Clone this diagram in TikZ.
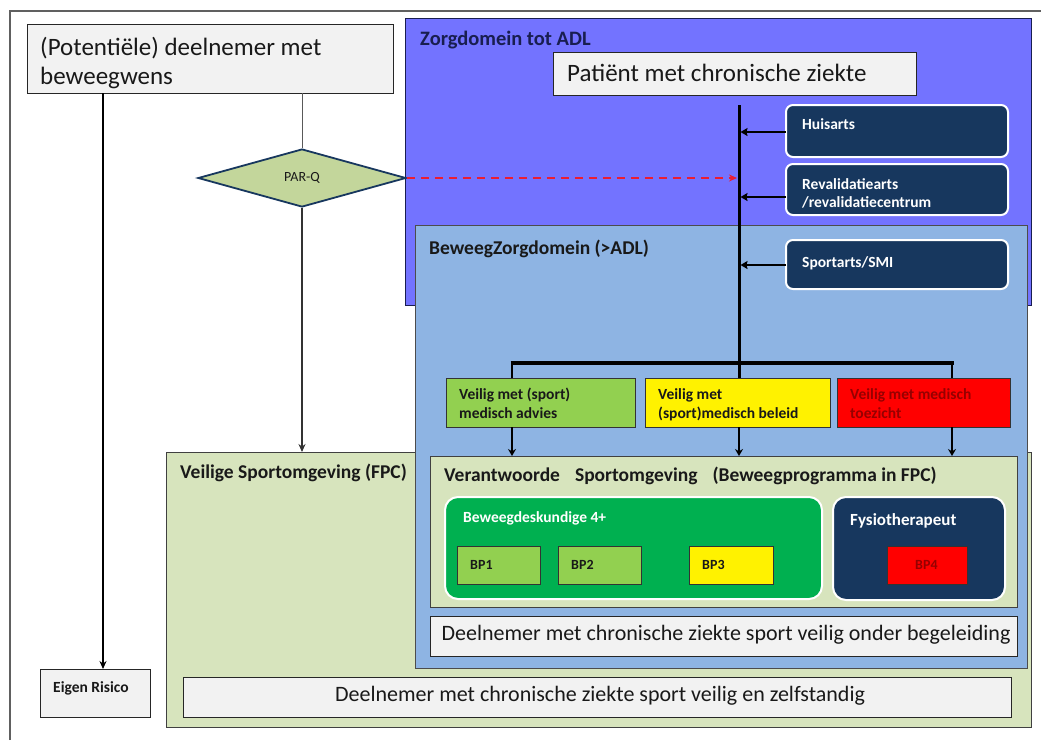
\documentclass[tikz,border=0pt]{standalone}
\usepackage{fontspec}
\setmainfont{Carlito}
\usetikzlibrary{shapes.geometric,arrows.meta}

\definecolor{zorgblue}{RGB}{115,115,255}
\definecolor{beweegblue}{RGB}{142,180,227}
\definecolor{fpcgreen}{RGB}{215,228,189}
\definecolor{navyfill}{RGB}{23,55,94}
\definecolor{lightgreen}{RGB}{146,208,80}
\definecolor{deepgreen}{RGB}{0,176,80}
\definecolor{palegrey}{RGB}{242,242,242}
\definecolor{parqgreen}{RGB}{195,214,155}
\definecolor{inkdark}{RGB}{25,25,25}
\definecolor{inknavy}{RGB}{25,30,80}
\definecolor{redink}{RGB}{150,0,0}
\definecolor{framegrey}{RGB}{96,96,96}
\definecolor{dashred}{RGB}{235,30,50}

\tikzset{
  panel/.style={anchor=north west, inner sep=0pt, outer sep=0pt, draw=black!75, line width=1pt},
  plainbox/.style={panel, fill=palegrey, draw=black!85},
  rolebox/.style={anchor=north west, inner sep=0pt, outer sep=0pt, draw=white, line width=2pt,
                  fill=navyfill, rounded corners=7pt},
  groupbox/.style={anchor=north west, inner sep=0pt, outer sep=0pt, draw=white, line width=2pt,
                  rounded corners=13pt},
  catbox/.style={panel, draw=black!80},
  bpbox/.style={panel, draw=black!80},
  titletxt/.style={anchor=base west, inner sep=0pt, text=inkdark, font=\bfseries\fontsize{19.5}{22}\selectfont},
  bigtxt/.style={anchor=base west, inner sep=0pt, text=inkdark, font=\fontsize{25}{29}\selectfont},
  wideTxt/.style={anchor=center, inner sep=0pt, text=inkdark, font=\fontsize{22}{26}\selectfont},
  smalltxt/.style={anchor=base west, inner sep=0pt, text=inkdark, font=\bfseries\fontsize{15.5}{18}\selectfont},
  bptxt/.style={smalltxt, font=\bfseries\fontsize{14}{16}\selectfont},
  flow/.style={draw=black, line width=1.1pt, -{Stealth[length=8pt,width=7pt]}},
  thinflow/.style={draw=black!65, line width=1pt},
  feed/.style={draw=black, line width=2.6pt, -{Stealth[length=7pt,width=8pt,inset=1pt]}},
  drop/.style={draw=black, line width=2pt, -{Stealth[length=7pt,width=8pt]}},
  stem/.style={draw=black, line width=2.5pt},
  trunk/.style={draw=black, line width=3pt},
  hbar/.style={draw=black, line width=4.5pt},
  riskarrow/.style={draw=dashred, line width=1.7pt, dash pattern=on 8pt off 6pt,
                    -{Stealth[length=8pt,width=7pt]}},
}

\begin{document}
\begin{tikzpicture}[x=1pt,y=-1pt]
\useasboundingbox (0,0) rectangle (1041,740);

% outer frame (left and top sides)
\draw[framegrey, line width=1.5pt] (10,740) -- (10,11) -- (1041,11);

% domain panels
\node[panel, fill=fpcgreen, draw=black!75, minimum width=865pt, minimum height=275pt] (fpc) at (166,452) {};
\node[panel, fill=zorgblue, draw=inknavy, minimum width=626pt, minimum height=287pt] (zorg) at (405,18) {};
\node[panel, fill=beweegblue, draw=black!70, minimum width=612pt, minimum height=443pt] (beweeg) at (415,225) {};

\node[titletxt, text=inknavy, font=\bfseries\fontsize{20.5}{23}\selectfont] (zorgT) at (420,45) {Zorgdomein tot ADL};
\node[titletxt] (beweegT) at (429,254) {BeweegZorgdomein (>ADL)};
\node[titletxt] (fpcT) at (180,478) {Veilige Sportomgeving (FPC)};

% starting point on the left
\node[plainbox, minimum width=366pt, minimum height=69pt] (wish) at (27,24) {};
\node[bigtxt] (wishA) at (40,55) {(Potentiële) deelnemer met};
\node[bigtxt] (wishB) at (40,84) {beweegwens};

% screening question
\node[diamond, draw=navyfill, line width=1.8pt, fill=parqgreen, minimum width=208pt,
      minimum height=58pt, inner sep=0pt, text=inkdark, font=\fontsize{14}{16}\selectfont] (parq) at (302,178) {PAR-Q};

% patient
\node[plainbox, minimum width=363pt, minimum height=43pt] (patient) at (553,52) {};
\node[bigtxt] (patientT) at (567,81) {Patiënt met chronische ziekte};

% referring professionals
\node[rolebox, minimum width=222pt, minimum height=52pt] (huis) at (786,105) {};
\node[smalltxt, text=white] (huisT) at (802,129) {Huisarts};
\node[rolebox, minimum width=222pt, minimum height=51pt] (reval) at (786,164) {};
\node[smalltxt, text=white] (revalA) at (802,189) {Revalidatiearts};
\node[smalltxt, text=white] (revalB) at (802,207) {/revalidatiecentrum};
\node[rolebox, minimum width=222pt, minimum height=49pt] (sport) at (786,240) {};
\node[smalltxt, text=white] (sportT) at (802,267) {Sportarts/SMI};

% safety categories
\node[catbox, fill=lightgreen, minimum width=189pt, minimum height=49pt] (catG) at (446,378) {};
\node[catbox, fill=yellow, minimum width=185pt, minimum height=49pt] (catY) at (645,378) {};
\node[catbox, fill=red, minimum width=173pt, minimum height=49pt] (catR) at (837,378) {};
\node[smalltxt] (catGa) at (459,399) {Veilig met (sport)};
\node[smalltxt] (catGb) at (459,418) {medisch advies};
\node[smalltxt] (catYa) at (658,399) {Veilig met};
\node[smalltxt] (catYb) at (658,418) {(sport)medisch beleid};
\node[smalltxt, text=redink] (catRa) at (850,399) {Veilig met medisch};
\node[smalltxt, text=redink] (catRb) at (850,418) {toezicht};

% supervised sport setting
\node[panel, fill=fpcgreen, draw=black!75, minimum width=587pt, minimum height=151pt] (ver) at (430,456) {};
\node[titletxt] (verT) at (444,481) {Verantwoorde\hspace{15pt}Sportomgeving\hspace{15pt}(Beweegprogramma in FPC)};

\node[groupbox, fill=deepgreen, minimum width=377pt, minimum height=102pt] (bd) at (445,497) {};
\node[smalltxt, text=white] (bdT) at (463,522) {Beweegdeskundige 4+};
\node[groupbox, fill=navyfill, minimum width=172pt, minimum height=103pt] (fysio) at (833,497) {};
\node[smalltxt, text=white, font=\bfseries\fontsize{17}{20}\selectfont] (fysioT) at (850,525) {Fysiotherapeut};

\node[bpbox, fill=lightgreen, minimum width=83pt, minimum height=38pt] (bp1) at (457,546) {};
\node[bpbox, fill=lightgreen, minimum width=83pt, minimum height=38pt] (bp2) at (558,546) {};
\node[bpbox, fill=yellow, minimum width=84pt, minimum height=38pt] (bp3) at (689,546) {};
\node[bpbox, fill=red, minimum width=80pt, minimum height=38pt] (bp4) at (887,546) {};
\node[bptxt] (bp1T) at (470,569) {BP1};
\node[bptxt] (bp2T) at (571,569) {BP2};
\node[bptxt] (bp3T) at (702,569) {BP3};
\node[bptxt, text=redink] (bp4T) at (915,569) {BP4};

% outcomes
\node[plainbox, minimum width=587pt, minimum height=40pt] (guided) at (430,616) {};
\node[wideTxt] (guidedT) at (726,635) {Deelnemer met chronische ziekte sport veilig onder begeleiding};
\node[plainbox, minimum width=828pt, minimum height=40pt] (alone) at (183,677) {};
\node[wideTxt] (aloneT) at (600,696) {Deelnemer met chronische ziekte sport veilig en zelfstandig};
\node[plainbox, minimum width=110pt, minimum height=48pt] (eigen) at (40,669) {};
\node[smalltxt] (eigenT) at (53,692) {Eigen Risico};

% left-hand routes
\draw[flow] ([xshift=76pt]wish.south west) -- ([xshift=63pt]eigen.north west);
\draw[thinflow] ([xshift=275pt]wish.south west) -- (parq.north);
\draw[flow, draw=black!80] (parq.south) -- (parq.south |- fpc.north);

% referral trunk
\coordinate (trunkTop) at (739,105);
\coordinate (barL) at (512,363);
\coordinate (barR) at (952,363);
\coordinate (tH) at (739,132);
\coordinate (tR) at (739,197);
\coordinate (tS) at (739,265);
\coordinate (tP) at (737,178);

\draw[trunk] (trunkTop) -- (trunkTop |- catY.north);
\draw[hbar] ([xshift=-1.5pt]barL) -- ([xshift=1.5pt]barR);
\draw[stem] (barL) -- (barL |- catG.north);
\draw[stem] (barR) -- (barR |- catR.north);

\draw[feed] (huis.west |- tH) -- ([xshift=1.5pt]tH);
\draw[feed] (reval.west |- tR) -- ([xshift=1.5pt]tR);
\draw[feed] (sport.west |- tS) -- ([xshift=1.5pt]tS);
\draw[riskarrow] (parq.east) -- (tP);

\draw[drop] (barL |- catG.south) -- (barL |- ver.north);
\draw[drop] (trunkTop |- catY.south) -- (trunkTop |- ver.north);
\draw[drop] (barR |- catR.south) -- (barR |- ver.north);
\end{tikzpicture}
\end{document}
